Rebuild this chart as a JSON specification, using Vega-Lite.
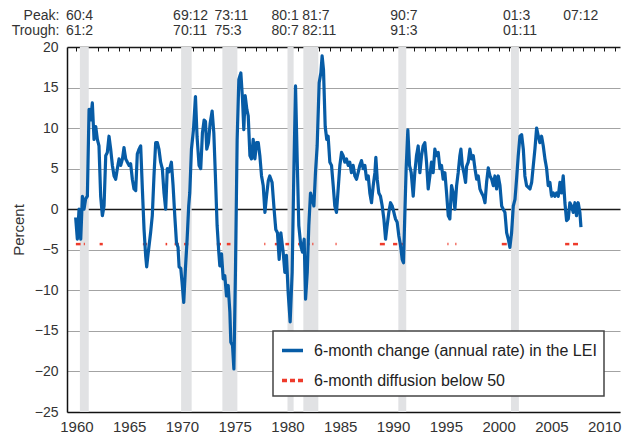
{
  "$schema": "https://vega.github.io/schema/vega-lite/v6.json",
  "width": 553,
  "height": 365,
  "autosize": "none",
  "padding": {"left": 67, "top": 47, "right": 6, "bottom": 23},
  "background": "white",
  "resolve": {"axis": {"x": "independent", "y": "independent"}},
  "config": {
    "view": {"stroke": null},
    "font": "Liberation Sans",
    "text": {"font": "Liberation Sans", "fontSize": 14, "fill": "#333333"},
    "legend": {
      "orient": "none", "legendX": 206, "legendY": 284, "direction": "vertical",
      "strokeColor": "#444444", "fillColor": "white", "strokeWidth": 1.5, "padding": 7,
      "symbolType": "stroke", "symbolSize": 441, "symbolStrokeWidth": 3.5,
      "labelFont": "Liberation Sans", "labelFontSize": 16, "labelColor": "#222222",
      "labelOffset": 9, "rowPadding": 9, "labelLimit": 400
    }
  },
  "datasets": {
    "lei": [
      {"date":1959.93,"value":-1.0},{"date":1960.09,"value":-3.7},{"date":1960.25,"value":0.0},{"date":1960.41,"value":-3.7},{"date":1960.57,"value":1.6},{"date":1960.72,"value":0.0},{"date":1960.88,"value":1.3},{"date":1961.04,"value":1.6},{"date":1961.2,"value":12.3},{"date":1961.35,"value":11.0},{"date":1961.51,"value":13.1},{"date":1961.67,"value":8.6},{"date":1961.83,"value":10.2},{"date":1961.99,"value":8.6},{"date":1962.14,"value":7.8},{"date":1962.3,"value":1.6},{"date":1962.46,"value":-0.8},{"date":1962.62,"value":0.4},{"date":1962.78,"value":6.6},{"date":1962.93,"value":7.0},{"date":1963.09,"value":9.0},{"date":1963.25,"value":7.4},{"date":1963.41,"value":5.4},{"date":1963.57,"value":4.1},{"date":1963.72,"value":3.7},{"date":1963.88,"value":5.0},{"date":1964.04,"value":6.2},{"date":1964.2,"value":5.4},{"date":1964.36,"value":6.2},{"date":1964.51,"value":7.6},{"date":1964.67,"value":6.2},{"date":1964.83,"value":5.8},{"date":1964.99,"value":5.4},{"date":1965.14,"value":5.6},{"date":1965.3,"value":3.7},{"date":1965.46,"value":2.5},{"date":1965.62,"value":2.3},{"date":1965.77,"value":6.8},{"date":1965.93,"value":7.4},{"date":1966.09,"value":7.8},{"date":1966.25,"value":2.5},{"date":1966.41,"value":-2.5},{"date":1966.56,"value":-5.7},{"date":1966.66,"value":-7.1},{"date":1966.81,"value":-5.3},{"date":1967.03,"value":-2.9},{"date":1967.19,"value":-0.8},{"date":1967.35,"value":4.1},{"date":1967.51,"value":8.2},{"date":1967.67,"value":8.2},{"date":1967.82,"value":7.4},{"date":1967.98,"value":5.8},{"date":1968.14,"value":5.0},{"date":1968.3,"value":2.0},{"date":1968.46,"value":0.0},{"date":1968.61,"value":5.0},{"date":1968.77,"value":4.6},{"date":1969.0,"value":5.8},{"date":1969.16,"value":2.9},{"date":1969.32,"value":-0.8},{"date":1969.48,"value":-4.1},{"date":1969.63,"value":-4.7},{"date":1969.73,"value":-7.1},{"date":1969.89,"value":-7.3},{"date":1970.01,"value":-9.0},{"date":1970.17,"value":-11.5},{"date":1970.33,"value":-7.3},{"date":1970.49,"value":-3.7},{"date":1970.64,"value":0.4},{"date":1970.74,"value":2.0},{"date":1970.9,"value":7.4},{"date":1971.09,"value":9.8},{"date":1971.28,"value":13.9},{"date":1971.43,"value":9.0},{"date":1971.62,"value":5.4},{"date":1971.78,"value":5.0},{"date":1971.94,"value":9.4},{"date":1972.1,"value":11.0},{"date":1972.23,"value":10.8},{"date":1972.35,"value":7.4},{"date":1972.51,"value":8.2},{"date":1972.67,"value":10.6},{"date":1972.86,"value":12.1},{"date":1973.02,"value":9.4},{"date":1973.18,"value":3.7},{"date":1973.33,"value":-2.0},{"date":1973.49,"value":-5.3},{"date":1973.59,"value":-7.0},{"date":1973.75,"value":-5.5},{"date":1973.91,"value":-8.6},{"date":1974.06,"value":-8.2},{"date":1974.22,"value":-10.7},{"date":1974.38,"value":-9.4},{"date":1974.54,"value":-12.7},{"date":1974.63,"value":-16.4},{"date":1974.79,"value":-16.8},{"date":1974.92,"value":-19.7},{"date":1975.07,"value":-7.6},{"date":1975.23,"value":8.6},{"date":1975.39,"value":16.0},{"date":1975.58,"value":16.8},{"date":1975.74,"value":13.5},{"date":1975.86,"value":9.8},{"date":1975.99,"value":14.0},{"date":1976.15,"value":12.3},{"date":1976.28,"value":11.5},{"date":1976.44,"value":6.6},{"date":1976.59,"value":6.2},{"date":1976.75,"value":8.6},{"date":1976.91,"value":6.2},{"date":1977.07,"value":8.2},{"date":1977.23,"value":8.2},{"date":1977.38,"value":6.6},{"date":1977.54,"value":4.1},{"date":1977.7,"value":2.9},{"date":1977.86,"value":-0.4},{"date":1978.01,"value":1.6},{"date":1978.18,"value":3.5},{"date":1978.32,"value":4.1},{"date":1978.54,"value":3.3},{"date":1978.73,"value":0.0},{"date":1978.89,"value":-2.5},{"date":1979.05,"value":-2.9},{"date":1979.21,"value":-6.2},{"date":1979.37,"value":-2.9},{"date":1979.59,"value":-5.3},{"date":1979.75,"value":-7.8},{"date":1979.9,"value":-5.7},{"date":1980.06,"value":-10.2},{"date":1980.25,"value":-13.9},{"date":1980.44,"value":-7.8},{"date":1980.6,"value":4.5},{"date":1980.76,"value":15.2},{"date":1980.91,"value":6.6},{"date":1981.07,"value":-2.0},{"date":1981.26,"value":-4.5},{"date":1981.42,"value":-5.3},{"date":1981.58,"value":-3.7},{"date":1981.71,"value":-11.1},{"date":1981.87,"value":-7.8},{"date":1982.02,"value":-2.0},{"date":1982.18,"value":2.0},{"date":1982.34,"value":1.2},{"date":1982.5,"value":0.4},{"date":1982.65,"value":4.5},{"date":1982.81,"value":7.8},{"date":1983.0,"value":15.6},{"date":1983.16,"value":16.8},{"date":1983.28,"value":18.9},{"date":1983.41,"value":17.2},{"date":1983.57,"value":10.2},{"date":1983.72,"value":8.6},{"date":1983.85,"value":9.0},{"date":1984.01,"value":5.8},{"date":1984.17,"value":5.4},{"date":1984.33,"value":2.9},{"date":1984.48,"value":0.4},{"date":1984.64,"value":-0.4},{"date":1984.8,"value":2.5},{"date":1984.96,"value":5.4},{"date":1985.12,"value":7.0},{"date":1985.27,"value":6.6},{"date":1985.43,"value":5.8},{"date":1985.59,"value":6.2},{"date":1985.75,"value":5.4},{"date":1985.9,"value":5.8},{"date":1986.06,"value":4.5},{"date":1986.22,"value":5.4},{"date":1986.38,"value":4.1},{"date":1986.54,"value":3.7},{"date":1986.69,"value":4.5},{"date":1986.85,"value":5.4},{"date":1987.01,"value":6.0},{"date":1987.17,"value":5.0},{"date":1987.33,"value":5.4},{"date":1987.49,"value":3.7},{"date":1987.65,"value":4.1},{"date":1987.8,"value":2.0},{"date":1987.96,"value":0.8},{"date":1988.12,"value":2.9},{"date":1988.28,"value":4.5},{"date":1988.37,"value":6.4},{"date":1988.5,"value":3.7},{"date":1988.65,"value":2.0},{"date":1988.81,"value":1.6},{"date":1988.97,"value":0.4},{"date":1989.13,"value":-1.2},{"date":1989.29,"value":-3.7},{"date":1989.44,"value":-2.0},{"date":1989.6,"value":-0.4},{"date":1989.76,"value":0.8},{"date":1989.92,"value":0.4},{"date":1990.08,"value":-0.4},{"date":1990.23,"value":-1.2},{"date":1990.39,"value":-1.6},{"date":1990.55,"value":-3.3},{"date":1990.71,"value":-4.5},{"date":1990.87,"value":-6.2},{"date":1990.99,"value":-6.6},{"date":1991.12,"value":-0.4},{"date":1991.24,"value":5.0},{"date":1991.4,"value":9.8},{"date":1991.56,"value":5.4},{"date":1991.72,"value":4.5},{"date":1991.91,"value":1.6},{"date":1992.06,"value":4.5},{"date":1992.22,"value":6.6},{"date":1992.38,"value":7.8},{"date":1992.54,"value":4.5},{"date":1992.7,"value":6.6},{"date":1992.85,"value":7.8},{"date":1993.01,"value":8.2},{"date":1993.17,"value":5.8},{"date":1993.33,"value":2.5},{"date":1993.49,"value":4.1},{"date":1993.64,"value":5.8},{"date":1993.8,"value":4.5},{"date":1993.96,"value":7.4},{"date":1994.12,"value":6.6},{"date":1994.28,"value":7.0},{"date":1994.44,"value":5.0},{"date":1994.59,"value":5.4},{"date":1994.75,"value":3.7},{"date":1994.91,"value":4.5},{"date":1995.07,"value":2.0},{"date":1995.23,"value":-0.8},{"date":1995.38,"value":-1.2},{"date":1995.54,"value":2.9},{"date":1995.7,"value":2.0},{"date":1995.86,"value":0.0},{"date":1996.02,"value":2.9},{"date":1996.17,"value":4.5},{"date":1996.33,"value":6.6},{"date":1996.43,"value":7.4},{"date":1996.56,"value":5.4},{"date":1996.71,"value":4.5},{"date":1996.87,"value":3.3},{"date":1996.97,"value":5.3},{"date":1997.12,"value":5.8},{"date":1997.28,"value":7.4},{"date":1997.44,"value":6.2},{"date":1997.6,"value":6.6},{"date":1997.76,"value":5.0},{"date":1997.92,"value":3.7},{"date":1998.07,"value":4.1},{"date":1998.23,"value":2.5},{"date":1998.39,"value":2.0},{"date":1998.55,"value":1.6},{"date":1998.71,"value":0.8},{"date":1998.86,"value":3.3},{"date":1999.02,"value":5.1},{"date":1999.18,"value":4.1},{"date":1999.34,"value":3.7},{"date":1999.5,"value":2.9},{"date":1999.65,"value":4.1},{"date":1999.81,"value":2.5},{"date":1999.97,"value":4.1},{"date":2000.13,"value":2.9},{"date":2000.29,"value":0.4},{"date":2000.44,"value":0.0},{"date":2000.6,"value":-0.4},{"date":2000.76,"value":-2.9},{"date":2000.92,"value":-3.7},{"date":2001.07,"value":-4.7},{"date":2001.23,"value":-2.9},{"date":2001.39,"value":0.4},{"date":2001.55,"value":1.2},{"date":2001.7,"value":3.7},{"date":2001.86,"value":6.6},{"date":2002.02,"value":9.0},{"date":2002.18,"value":9.2},{"date":2002.34,"value":7.4},{"date":2002.49,"value":4.1},{"date":2002.65,"value":2.9},{"date":2002.81,"value":2.7},{"date":2002.97,"value":2.5},{"date":2003.13,"value":3.3},{"date":2003.28,"value":5.3},{"date":2003.44,"value":7.4},{"date":2003.6,"value":10.0},{"date":2003.76,"value":9.0},{"date":2003.91,"value":8.2},{"date":2004.07,"value":9.0},{"date":2004.23,"value":7.8},{"date":2004.39,"value":6.2},{"date":2004.55,"value":5.0},{"date":2004.7,"value":2.9},{"date":2004.86,"value":3.3},{"date":2005.02,"value":1.6},{"date":2005.18,"value":2.0},{"date":2005.33,"value":1.6},{"date":2005.49,"value":2.0},{"date":2005.65,"value":1.6},{"date":2005.81,"value":3.3},{"date":2005.96,"value":2.0},{"date":2006.12,"value":4.1},{"date":2006.28,"value":0.8},{"date":2006.44,"value":-1.4},{"date":2006.6,"value":-1.2},{"date":2006.75,"value":0.8},{"date":2006.91,"value":0.4},{"date":2007.07,"value":-0.4},{"date":2007.23,"value":0.8},{"date":2007.38,"value":-0.8},{"date":2007.54,"value":0.8},{"date":2007.7,"value":-0.4},{"date":2007.8,"value":-2.2}
    ],
    "recessions": [
      {"date":1960.33,"date2":1961.17},{"date":1969.92,"date2":1970.92},{"date":1973.83,"date2":1975.25},{"date":1980.0,"date2":1980.58},{"date":1981.5,"date2":1982.92},{"date":1990.5,"date2":1991.25},{"date":2001.17,"date2":2001.92}
    ],
    "diffusion": [
      {"date":1959.95,"date2":1960.4},{"date":1960.7,"date2":1960.8},{"date":1962.2,"date2":1962.5},{"date":1966.3,"date2":1966.7},{"date":1968.45,"date2":1968.6},{"date":1969.3,"date2":1969.7},{"date":1970.2,"date2":1970.6},{"date":1973.3,"date2":1973.7},{"date":1974.25,"date2":1974.6},{"date":1975.05,"date2":1975.15},{"date":1977.8,"date2":1977.9},{"date":1978.8,"date2":1979.2},{"date":1979.8,"date2":1980.15},{"date":1981.0,"date2":1981.5},{"date":1981.9,"date2":1982.1},{"date":1982.35,"date2":1982.45},{"date":1984.55,"date2":1984.65},{"date":1988.75,"date2":1989.5},{"date":1990.0,"date2":1990.4},{"date":1990.75,"date2":1991.0},{"date":1995.15,"date2":1995.25},{"date":1995.9,"date2":1996.0},{"date":2000.3,"date2":2000.9},{"date":2006.3,"date2":2006.7},{"date":2007.05,"date2":2007.6}
    ],
    "turns": [
      {"date":1960.33,"label":"60:4\n61:2"},{"date":1969.92,"label":"69:12\n70:11"},{"date":1973.83,"label":"73:11\n75:3"},{"date":1980.0,"label":"80:1\n80:7"},{"date":1981.5,"label":"81:7\n82:11"},{"date":1990.5,"label":"90:7\n91:3"},{"date":2001.17,"label":"01:3\n01:11"},{"date":2007.92,"label":"07:12"}
    ],
    "heads": [
      {"date":1960,"label":"Peak:\nTrough:"}
    ]
  },
  "layer": [
    {
      "data": {"name": "recessions"},
      "mark": {"type": "rect", "color": "#e1e2e4"},
      "encoding": {
        "x": {"field": "date", "type": "quantitative", "title": null,
          "scale": {"domain": [1959.11, 2011.5], "nice": false, "zero": false},
          "axis": {
            "values": [1960,1965,1970,1975,1980,1985,1990,1995,2000,2005,2010],
            "format": "d", "labelOverlap": false, "labelFlush": false, "grid": false,
            "domainColor": "#111111", "domainWidth": 1.5, "ticks": false,
            "labelFont": "Liberation Sans", "labelFontSize": 15, "labelColor": "#333333", "labelPadding": 7
          }
        },
        "x2": {"field": "date2"}
      }
    },
    {
      "mark": {"type": "rule", "color": "#8c8c8c", "strokeWidth": 2},
      "encoding": {
        "x": {"datum": 2007.875, "type": "quantitative", "title": null,
          "scale": {"domain": [1959.11, 2011.5], "nice": false, "zero": false},
          "axis": {
            "values": [1960,1961,1962,1963,1964,1965,1966,1967,1968,1969,1970,1971,1972,1973,1974,1975,1976,1977,1978,1979,1980,1981,1982,1983,1984,1985,1986,1987,1988,1989,1990,1991,1992,1993,1994,1995,1996,1997,1998,1999,2000,2001,2002,2003,2004,2005,2006,2007,2008,2009,2010,2011],
            "labels": false, "domain": false, "grid": false,
            "tickColor": "#111111", "tickWidth": 1, "tickSize": -4
          }
        }
      }
    },
    {
      "data": {"name": "diffusion"},
      "transform": [{"calculate": "'6-month diffusion below 50'", "as": "series"}],
      "mark": {"type": "rule", "strokeWidth": 2.5},
      "encoding": {
        "x": {"field": "date", "type": "quantitative", "axis": null, "scale": {"domain": [1959.11, 2011.5], "nice": false, "zero": false}},
        "x2": {"field": "date2"},
        "y": {"datum": -4.3, "type": "quantitative", "axis": null, "scale": {"domain": [-25, 20], "nice": false, "zero": false}},
        "color": {"field": "series", "type": "nominal", "title": null,
          "scale": {"domain": ["6-month change (annual rate) in the LEI", "6-month diffusion below 50"], "range": ["#075ca6", "#ee3b2b"]}},
        "strokeDash": {"field": "series", "type": "nominal", "title": null,
          "scale": {"domain": ["6-month change (annual rate) in the LEI", "6-month diffusion below 50"], "range": [[1, 0], [5, 3]]}}
      }
    },
    {
      "data": {"name": "lei"},
      "transform": [{"calculate": "'6-month change (annual rate) in the LEI'", "as": "series"}],
      "mark": {"type": "line", "strokeWidth": 3.2, "strokeJoin": "round"},
      "encoding": {
        "x": {"field": "date", "type": "quantitative", "axis": null, "scale": {"domain": [1959.11, 2011.5], "nice": false, "zero": false}},
        "y": {"field": "value", "type": "quantitative", "title": "Percent",
          "scale": {"domain": [-25, 20], "nice": false, "zero": false},
          "axis": {
            "values": [-25,-20,-15,-10,-5,0,5,10,15,20],
            "grid": true,
            "gridColor": {"condition": {"test": "datum.value === 0 || datum.value === 20", "value": "#1a1a1a"}, "value": "#a3a3a3"},
            "gridWidth": {"condition": {"test": "datum.value === 0 || datum.value === 20", "value": 1.5}, "value": 1.2},
            "ticks": false, "domainColor": "#111111", "domainWidth": 1.5,
            "labelFont": "Liberation Sans", "labelFontSize": 14, "labelColor": "#333333", "labelPadding": 9,
            "titleFont": "Liberation Sans", "titleFontSize": 15, "titleFontWeight": "normal", "titleColor": "#333333", "titlePadding": 8
          }
        },
        "color": {"field": "series", "type": "nominal", "title": null,
          "scale": {"domain": ["6-month change (annual rate) in the LEI", "6-month diffusion below 50"], "range": ["#075ca6", "#ee3b2b"]}},
        "strokeDash": {"field": "series", "type": "nominal", "title": null,
          "scale": {"domain": ["6-month change (annual rate) in the LEI", "6-month diffusion below 50"], "range": [[1, 0], [5, 3]]}}
      }
    },
    {
      "mark": {"type": "text", "align": "left", "baseline": "middle", "dx": -2, "fontSize": 15},
      "encoding": {
        "x": {"datum": 2007.875, "type": "quantitative", "axis": null, "scale": {"domain": [1959.11, 2011.5], "nice": false, "zero": false}},
        "y": {"datum": -6.4, "type": "quantitative", "axis": null, "scale": {"domain": [-25, 20], "nice": false, "zero": false}},
        "text": {"value": "Nov. 07"}
      }
    },
    {
      "data": {"name": "heads"},
      "mark": {"type": "text", "align": "right", "baseline": "alphabetic", "dx": -17, "lineBreak": "\n", "lineHeight": 15, "fontSize": 14},
      "encoding": {
        "x": {"field": "date", "type": "quantitative", "axis": null, "scale": {"domain": [1959.11, 2011.5], "nice": false, "zero": false}},
        "y": {"datum": 23.3, "type": "quantitative", "axis": null, "scale": {"domain": [-25, 20], "nice": false, "zero": false}},
        "text": {"field": "label"}
      }
    },
    {
      "data": {"name": "turns"},
      "transform": [{"filter": "indexof(['69:12\\n70:11','73:11\\n75:3','90:7\\n91:3','01:3\\n01:11'], datum.label) >= 0"}],
      "mark": {"type": "text", "align": "left", "baseline": "alphabetic", "dx": -8, "lineBreak": "\n", "lineHeight": 15, "fontSize": 14},
      "encoding": {
        "x": {"field": "date", "type": "quantitative", "axis": null, "scale": {"domain": [1959.11, 2011.5], "nice": false, "zero": false}},
        "y": {"datum": 23.3, "type": "quantitative", "axis": null, "scale": {"domain": [-25, 20], "nice": false, "zero": false}},
        "text": {"field": "label"}
      }
    },
    {
      "data": {"name": "turns"},
      "transform": [{"filter": "datum.label === '60:4\\n61:2'"}],
      "mark": {"type": "text", "align": "left", "baseline": "alphabetic", "dx": -14, "lineBreak": "\n", "lineHeight": 15, "fontSize": 14},
      "encoding": {
        "x": {"field": "date", "type": "quantitative", "axis": null, "scale": {"domain": [1959.11, 2011.5], "nice": false, "zero": false}},
        "y": {"datum": 23.3, "type": "quantitative", "axis": null, "scale": {"domain": [-25, 20], "nice": false, "zero": false}},
        "text": {"field": "label"}
      }
    },
    {
      "data": {"name": "turns"},
      "transform": [{"filter": "datum.label === '80:1\\n80:7'"}],
      "mark": {"type": "text", "align": "left", "baseline": "alphabetic", "dx": -16, "lineBreak": "\n", "lineHeight": 15, "fontSize": 14},
      "encoding": {
        "x": {"field": "date", "type": "quantitative", "axis": null, "scale": {"domain": [1959.11, 2011.5], "nice": false, "zero": false}},
        "y": {"datum": 23.3, "type": "quantitative", "axis": null, "scale": {"domain": [-25, 20], "nice": false, "zero": false}},
        "text": {"field": "label"}
      }
    },
    {
      "data": {"name": "turns"},
      "transform": [{"filter": "datum.label === '81:7\\n82:11'"}],
      "mark": {"type": "text", "align": "left", "baseline": "alphabetic", "dx": -1, "lineBreak": "\n", "lineHeight": 15, "fontSize": 14},
      "encoding": {
        "x": {"field": "date", "type": "quantitative", "axis": null, "scale": {"domain": [1959.11, 2011.5], "nice": false, "zero": false}},
        "y": {"datum": 23.3, "type": "quantitative", "axis": null, "scale": {"domain": [-25, 20], "nice": false, "zero": false}},
        "text": {"field": "label"}
      }
    },
    {
      "data": {"name": "turns"},
      "transform": [{"filter": "datum.label === '07:12'"}],
      "mark": {"type": "text", "align": "left", "baseline": "alphabetic", "dx": -19, "lineBreak": "\n", "lineHeight": 15, "fontSize": 14},
      "encoding": {
        "x": {"field": "date", "type": "quantitative", "axis": null, "scale": {"domain": [1959.11, 2011.5], "nice": false, "zero": false}},
        "y": {"datum": 23.3, "type": "quantitative", "axis": null, "scale": {"domain": [-25, 20], "nice": false, "zero": false}},
        "text": {"field": "label"}
      }
    }
  ]
}
